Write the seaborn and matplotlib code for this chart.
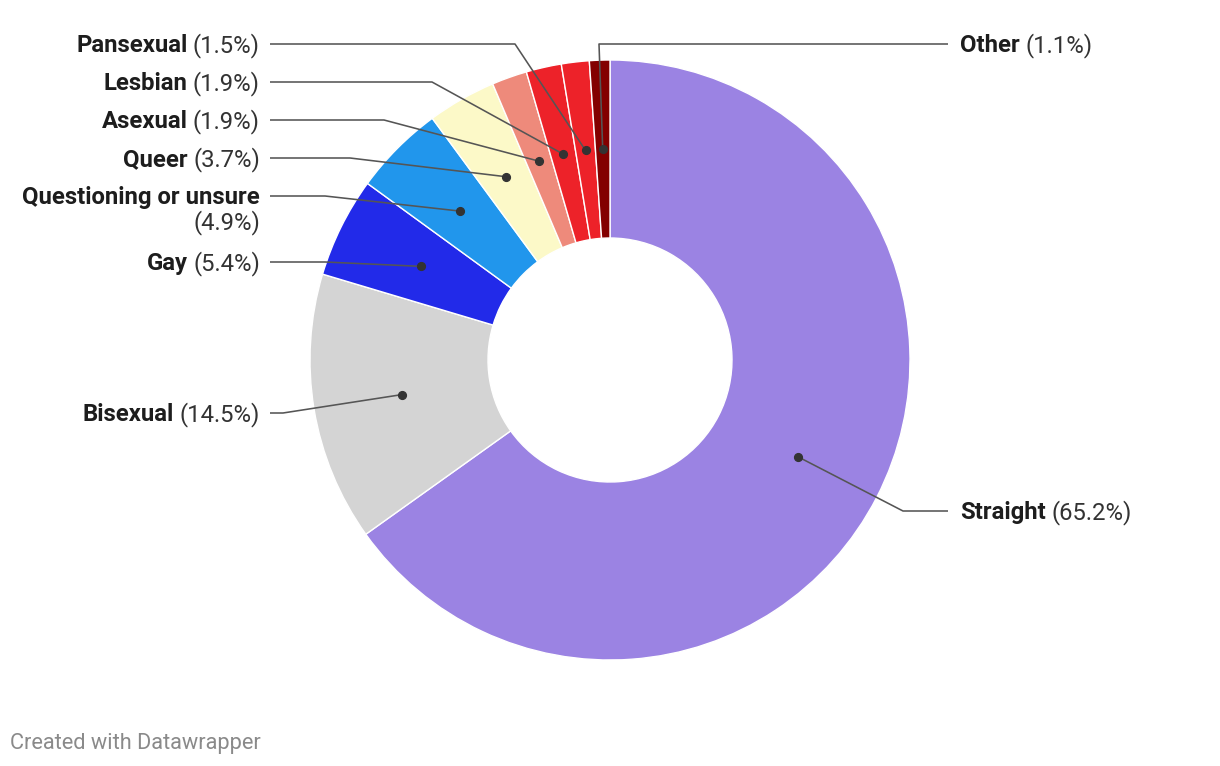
import matplotlib
matplotlib.use("Agg")
import matplotlib.pyplot as plt
import seaborn as sns
import numpy as np

# ---- data ----
categories = ["Straight", "Bisexual", "Gay", "Questioning or unsure", "Queer",
              "Asexual", "Lesbian", "Pansexual", "Other"]
values = [65.2, 14.5, 5.4, 4.9, 3.7, 1.9, 1.9, 1.5, 1.1]
pct_labels = ["(65.2%)", "(14.5%)", "(5.4%)", "(4.9%)", "(3.7%)",
              "(1.9%)", "(1.9%)", "(1.5%)", "(1.1%)"]
colors = ["#9b83e3", "#d4d4d4", "#222ae9", "#2196ec", "#fcf9c8",
          "#ee8a7b", "#ed2229", "#ed2229", "#830000"]

# ---- layout (pixel units, y from top) ----
W, H = 1220, 766
CX, CY = 610, 360
R_OUT, R_IN = 300, 122
label_side = ["right", "left", "left", "left", "left", "left", "left", "left", "right"]
label_y = [511, 413, 262, 196, 158, 120, 82, 44, 44]
elbow_x = [903, 283, 325, 325, 350, 384, 432, 515, 599]
two_line = [False, False, False, True, False, False, False, False, False]

sns.set_theme(style="white")
plt.rcParams["font.family"] = ["Roboto", "DejaVu Sans"]

fig = plt.figure(figsize=(W / 100, H / 100), dpi=100)
ax = fig.add_axes([0, 0, 1, 1])

def py(y):
    return H - y

wedges, _ = ax.pie(values, colors=colors, startangle=90, counterclock=False,
                   radius=R_OUT, center=(CX, py(CY)),
                   wedgeprops=dict(width=R_OUT - R_IN, edgecolor="white", linewidth=1.0))
ax.set_xlim(0, W)
ax.set_ylim(0, H)
ax.set_aspect("equal")
ax.axis("off")

fig.canvas.draw()
renderer = fig.canvas.get_renderer()
inv = ax.transData.inverted()

def text_width(t):
    bb = t.get_window_extent(renderer=renderer)
    (x0, _), (x1, _) = inv.transform([[bb.x0, bb.y0], [bb.x1, bb.y0]])
    return x1 - x0

FS = 17.2
LINE_C = "#555555"
DOT_C = "#333333"
r_mid = (R_OUT + R_IN) / 2

for i, w in enumerate(wedges):
    ang = np.deg2rad((w.theta1 + w.theta2) / 2)
    dx = CX + r_mid * np.cos(ang)
    dy = py(CY) + r_mid * np.sin(ang)
    ly = py(label_y[i])
    if label_side[i] == "left":
        xs = [270, elbow_x[i], dx]
    else:
        xs = [948, elbow_x[i], dx]
    ys = [ly, ly, dy]
    ax.plot(xs, ys, color=LINE_C, lw=1.15, solid_capstyle="butt", zorder=3)
    ax.plot([dx], [dy], "o", color=DOT_C, ms=5.6, zorder=4)

    base = ly - 8.3
    if label_side[i] == "left":
        xr = 260
        if two_line[i]:
            ax.text(xr, base, categories[i], ha="right", va="baseline",
                    fontsize=FS, fontweight="bold", color="#1d1d1d")
            ax.text(xr, base - 25, pct_labels[i], ha="right", va="baseline",
                    fontsize=FS, color="#333333")
        else:
            t = ax.text(xr, base, pct_labels[i], ha="right", va="baseline",
                        fontsize=FS, color="#333333")
            pw = text_width(t)
            ax.text(xr - pw - 5.5, base, categories[i], ha="right", va="baseline",
                    fontsize=FS, fontweight="bold", color="#1d1d1d")
    else:
        xl = 960
        t = ax.text(xl, base, categories[i], ha="left", va="baseline",
                    fontsize=FS, fontweight="bold", color="#1d1d1d")
        nw = text_width(t)
        ax.text(xl + nw + 5.5, base, pct_labels[i], ha="left", va="baseline",
                fontsize=FS, color="#333333")

ax.text(10, py(743.5), "Created with Datawrapper", ha="left", va="center",
        fontsize=15.7, color="#8a8a8a")

fig.savefig("out.png", dpi=100, facecolor="white")
